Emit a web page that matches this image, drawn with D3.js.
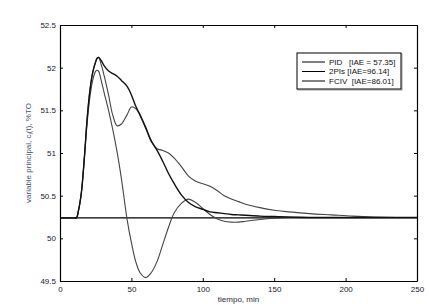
<!DOCTYPE html>
<html>
<head>
<meta charset="utf-8">
<script src="https://cdn.jsdelivr.net/npm/d3@7"></script>
<style>
  html, body { margin: 0; padding: 0; background: #fff; }
  svg { display: block; font-family: "Liberation Sans", Arial, sans-serif; }
</style>
</head>
<body>
<div id="chart"></div>
<script>
// time axis (min), shared by all three responses
const tiempo = [0, 5, 10, 11.5, 13, 15, 17, 19, 21, 23, 25, 26, 27, 29, 31, 34, 37, 40, 43, 47, 50, 53, 56, 60, 64, 68, 72, 76, 80, 85, 90, 95, 100, 105, 110, 115, 120, 125, 130, 140, 150, 160, 175, 190, 205, 220, 235, 250];

const pid = [50.24, 50.24, 50.24, 50.24, 50.33, 50.54, 50.93, 51.35, 51.66, 51.86, 51.96, 51.97, 51.96, 51.84, 51.7, 51.5, 51.27, 51.01, 50.7, 50.22, 49.95, 49.73, 49.6, 49.54, 49.6, 49.73, 49.93, 50.13, 50.3, 50.41, 50.46, 50.42, 50.35, 50.28, 50.23, 50.2, 50.19, 50.19, 50.2, 50.22, 50.235, 50.245, 50.245, 50.245, 50.245, 50.245, 50.245, 50.245];

const dosPIs = [50.24, 50.24, 50.24, 50.24, 50.33, 50.54, 50.93, 51.4, 51.74, 51.95, 52.07, 52.11, 52.12, 52.03, 51.9, 51.68, 51.44, 51.32, 51.34, 51.45, 51.54, 51.52, 51.44, 51.29, 51.13, 51.05, 51.03, 51.0, 50.94, 50.84, 50.73, 50.67, 50.64, 50.61, 50.56, 50.5, 50.46, 50.43, 50.4, 50.36, 50.33, 50.31, 50.29, 50.275, 50.26, 50.25, 50.245, 50.245];

const fciv = [50.24, 50.24, 50.24, 50.24, 50.33, 50.54, 50.93, 51.4, 51.74, 51.95, 52.07, 52.11, 52.12, 52.08, 52.02, 51.96, 51.93, 51.9, 51.85, 51.78, 51.68, 51.55, 51.45, 51.3, 51.14, 51.03, 50.9, 50.76, 50.64, 50.51, 50.42, 50.37, 50.34, 50.31, 50.3, 50.29, 50.28, 50.275, 50.27, 50.26, 50.255, 50.25, 50.245, 50.245, 50.245, 50.245, 50.245, 50.245];

const referencia = 50.24;

const seriesNames = ["PID   [IAE = 57.35]", "2PIs [IAE=96.14]", "FCIV  [IAE=86.01]"];
const xTicks = [0, 50, 100, 150, 200, 250];
const yTicks = [49.5, 50, 50.5, 51, 51.5, 52, 52.5];

const width = 429, height = 307;
const margin = { top: 25, right: 12, bottom: 26, left: 60 };

const svg = d3.select("#chart").append("svg")
    .attr("width", width)
    .attr("height", height);

svg.append("rect").attr("width", width).attr("height", height).attr("fill", "#fff");

const x = d3.scaleLinear().domain([0, 250]).range([margin.left, width - margin.right]);
const y = d3.scaleLinear().domain([49.5, 52.5]).range([height - margin.bottom, margin.top]);

// reference line
svg.append("line")
    .attr("x1", x(0)).attr("x2", x(250))
    .attr("y1", y(referencia)).attr("y2", y(referencia))
    .attr("stroke", "#000")
    .attr("stroke-width", 1.2);

const line = d3.line()
    .x(d => x(d[0]))
    .y(d => y(d[1]))
    .curve(d3.curveCatmullRom.alpha(0.5));

const curves = [
    { values: pid, color: "#444", w: 1.1 },
    { values: dosPIs, color: "#444", w: 1.1 },
    { values: fciv, color: "#111", w: 1.4 }
];

curves.forEach(c => {
    svg.append("path")
        .datum(tiempo.map((t, i) => [t, c.values[i]]))
        .attr("fill", "none")
        .attr("stroke", c.color)
        .attr("stroke-width", c.w)
        .attr("d", line);
});

// axes, ticks pointing inward on all sides
const fontSize = "8px";
const axB = svg.append("g")
    .attr("transform", `translate(0,${y(49.5)})`)
    .call(d3.axisBottom(x).tickValues(xTicks).tickSizeInner(-3).tickSizeOuter(0).tickPadding(5));
const axT = svg.append("g")
    .attr("transform", `translate(0,${y(52.5)})`)
    .call(d3.axisTop(x).tickValues(xTicks).tickSizeInner(-3).tickSizeOuter(0).tickFormat(""));
const axL = svg.append("g")
    .attr("transform", `translate(${x(0)},0)`)
    .call(d3.axisLeft(y).tickValues(yTicks).tickSizeInner(-3).tickSizeOuter(0).tickPadding(4).tickFormat(d3.format("")));
const axR = svg.append("g")
    .attr("transform", `translate(${x(250)},0)`)
    .call(d3.axisRight(y).tickValues(yTicks).tickSizeInner(-3).tickSizeOuter(0).tickFormat(""));

[axB, axT, axL, axR].forEach(a => {
    a.selectAll(".domain").attr("stroke", "#000").attr("stroke-width", 1.2);
    a.selectAll(".tick line").attr("stroke", "#000");
    a.selectAll("text")
        .attr("fill", "#1a1a2a")
        .style("font-size", fontSize)
        .style("font-family", "'Liberation Sans', Arial, sans-serif");
});

// axis labels
svg.append("text")
    .attr("x", (x(0) + x(250)) / 2)
    .attr("y", 302)
    .attr("text-anchor", "middle")
    .style("font-size", "8px")
    .attr("fill", "#2a2a3a")
    .text("tiempo, min");

const yl = svg.append("text")
    .attr("transform", `translate(31,${(y(49.5) + y(52.5)) / 2}) rotate(-90)`)
    .attr("text-anchor", "middle")
    .style("font-size", "8px")
    .attr("fill", "#4a5078");
yl.append("tspan").text("variable principal, c");
yl.append("tspan").attr("dy", 2).style("font-size", "6px").text("l");
yl.append("tspan").attr("dy", -2).text("(t), %TO");

// legend
const legend = svg.append("g").attr("transform", "translate(297,53)");
legend.append("rect")
    .attr("x", 1).attr("y", 1)
    .attr("width", 104).attr("height", 36)
    .attr("fill", "none")
    .attr("stroke", "#888")
    .attr("stroke-width", 0.8);
legend.append("rect")
    .attr("width", 104).attr("height", 36)
    .attr("fill", "#fff")
    .attr("stroke", "#000")
    .attr("stroke-width", 1);

seriesNames.forEach((name, i) => {
    const yy = 9 + i * 9.5;
    legend.append("line")
        .attr("x1", 5).attr("x2", 28)
        .attr("y1", yy).attr("y2", yy)
        .attr("stroke", "#000")
        .attr("stroke-width", 1);
    legend.append("text")
        .attr("x", 32)
        .attr("y", yy + 2.8)
        .style("font-size", "8px")
        .attr("fill", "#111")
        .attr("xml:space", "preserve")
        .text(name);
});
</script>
</body>
</html>
